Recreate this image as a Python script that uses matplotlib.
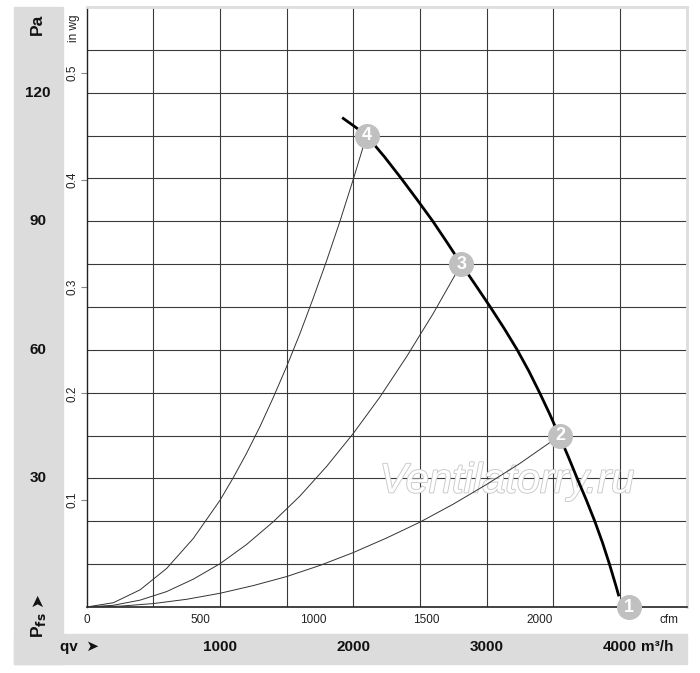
import matplotlib
matplotlib.use('Agg')
import matplotlib.pyplot as plt
import matplotlib.patheffects as pe
from matplotlib.patches import Rectangle
from matplotlib.transforms import blended_transform_factory

plt.rcParams['font.family'] = ['Liberation Sans', 'DejaVu Sans']

# fan curve (m3/h, Pa)
fan_q = [1925, 2015, 2100, 2235, 2360, 2480, 2597, 2705, 2810, 2920, 3028, 3132, 3230,
         3318, 3398, 3474, 3545, 3614, 3680, 3748, 3812, 3870, 3922, 3970, 3990]
fan_p = [114, 112, 110, 105, 100, 95, 90, 85, 80, 75, 70, 65, 60,
         55, 50, 45, 40, 35, 30, 25, 20, 15, 10, 5, 2.8]

# system curves (m3/h, Pa)
sys4_q = [0, 200, 400, 600, 800, 1000, 1100, 1200, 1300, 1400, 1500, 1600, 1700, 1800, 1900, 2000, 2100]
sys4_p = [0, 1.0, 4.0, 9.0, 16.0, 24.9, 30.2, 35.9, 42.1, 48.9, 56.1, 63.8, 72.1, 80.8, 90.0, 99.8, 110]
sys3_q = [0, 200, 400, 600, 800, 1000, 1200, 1400, 1600, 1800, 2000, 2200, 2400, 2600, 2810]
sys3_p = [0, 0.4, 1.6, 3.6, 6.5, 10.1, 14.6, 19.9, 25.9, 32.8, 40.5, 49.0, 58.4, 68.5, 80]
sys2_q = [0, 250, 500, 750, 1000, 1250, 1500, 1750, 2000, 2250, 2500, 2750, 3000, 3250, 3550]
sys2_p = [0, 0.2, 0.8, 1.8, 3.2, 5.0, 7.1, 9.7, 12.7, 16.1, 19.8, 24.0, 28.6, 33.5, 40]

# operating points
op_labels = ['1', '2', '3', '4']
op_q = [4067, 3550, 2810, 2100]
op_p = [0, 40, 80, 110]

pa_ticks = [30, 60, 90, 120]
inwg_ticks = [0.1, 0.2, 0.3, 0.4, 0.5]
cfm_ticks = [0, 500, 1000, 1500, 2000]
m3h_ticks = [1000, 2000, 3000, 4000]

W, H = 700, 673
fig = plt.figure(figsize=(W / 100, H / 100), dpi=100)

def fx(px):
    return px / W

def fy(py):
    return 1 - py / H

# gray side and bottom strips
fig.patches.append(Rectangle((fx(14), fy(664)), fx(63) - fx(14), fy(7) - fy(664),
                             transform=fig.transFigure, color='#dcdcdc', zorder=-1))
fig.patches.append(Rectangle((fx(14), fy(664)), fx(687) - fx(14), fy(634) - fy(664),
                             transform=fig.transFigure, color='#dcdcdc', zorder=-1))

ax = fig.add_axes([fx(86.7), fy(607), fx(686.5) - fx(86.7), fy(7) - fy(607)])
ax.set_xlim(0, 4500)
ax.set_ylim(0, 140)

for x in range(500, 4500, 500):
    ax.axvline(x, color='#3a3a3a', lw=0.8, zorder=1)
for y in range(10, 140, 10):
    ax.axhline(y, color='#3a3a3a', lw=0.8, zorder=1)

ax.spines['left'].set_color('#222222')
ax.spines['bottom'].set_color('#222222')
ax.spines['left'].set_linewidth(1.0)
ax.spines['bottom'].set_linewidth(1.2)
ax.spines['top'].set_color('#dddddd')
ax.spines['right'].set_color('#dddddd')
ax.spines['top'].set_linewidth(2)
ax.spines['right'].set_linewidth(2)
ax.set_xticks([])
ax.set_yticks([])

# watermark
ax.text(3152, 29.3, 'Ventilatorry.ru', fontsize=30, style='italic', color='white',
        ha='center', va='center', zorder=2,
        path_effects=[pe.withStroke(linewidth=1.3, foreground='#c8c8c8')])

# curves
ax.plot(sys4_q, sys4_p, color='#333333', lw=0.7, zorder=3)
ax.plot(sys3_q, sys3_p, color='#333333', lw=0.7, zorder=3)
ax.plot(sys2_q, sys2_p, color='#333333', lw=0.7, zorder=3)
ax.plot(fan_q, fan_p, color='black', lw=2, zorder=4, solid_joinstyle='round')

for lab, q, p in zip(op_labels, op_q, op_p):
    ax.plot(q, p, 'o', ms=18, color='#c0c0c0', mec='none', zorder=5, clip_on=False)
    ax.text(q, p, lab, color='white', fontsize=13, fontweight='bold',
            ha='center', va='center', zorder=6, clip_on=False)

# cfm scale under the axis
cfm_ax = ax.secondary_xaxis('bottom', functions=(lambda q: q / 1.699, lambda c: c * 1.699))
cfm_ax.set_xticks(cfm_ticks)
cfm_ax.tick_params(length=0, pad=5, labelsize=8.5, labelcolor='#222222')
cfm_ax.spines['bottom'].set_visible(False)
ax.annotate('cfm', xy=(1, 0), xycoords='axes fraction', xytext=(-12.5, -9.5),
            textcoords='offset points', ha='center', va='center', fontsize=8.5, color='#222222')

# in wg scale on the left
wg_ax = ax.secondary_yaxis('left', functions=(lambda p: p / 249.09, lambda w: w * 249.09))
wg_ax.set_yticks(inwg_ticks)
wg_ax.set_yticklabels([str(t) for t in inwg_ticks], rotation=90, va='center')
wg_ax.tick_params(length=4, width=0.8, color='#888888', pad=2, labelsize=8.5, labelcolor='#222222')
wg_ax.spines['left'].set_visible(False)
fig.text(fx(74), fy(28), 'in wg', rotation=90, ha='center', va='center', fontsize=8.5, color='#222222')

# Pa scale in the gray strip
trans_y = blended_transform_factory(fig.transFigure, ax.transData)
for p in pa_ticks:
    ax.text(fx(38), p, str(p), transform=trans_y, ha='center', va='center',
            fontsize=11, fontweight='bold', color='#111111')
fig.text(fx(37), fy(24), 'Pa', rotation=90, ha='center', va='center',
         fontsize=12.5, fontweight='bold', color='#111111')
fig.text(fx(38), fy(638), 'P$_{\\mathbf{fs}}$', rotation=90, ha='center', va='bottom',
         fontsize=12.5, fontweight='bold', color='#111111')
fig.text(fx(38), fy(600), '➤', rotation=90, ha='center', va='center',
         fontsize=12, color='#111111')

# m3/h scale in the bottom strip
trans_x = blended_transform_factory(ax.transData, fig.transFigure)
for q in m3h_ticks:
    ax.text(q, fy(647), str(q), transform=trans_x, ha='center', va='center',
            fontsize=11, fontweight='bold', color='#111111')
ax.annotate('m³/h', xy=(4000, fy(647)), xycoords=trans_x, xytext=(15, 0),
            textcoords='offset points', ha='left', va='center',
            fontsize=11, fontweight='bold', color='#111111')
fig.text(fx(60), fy(647), 'qv  ➤', ha='left', va='center',
         fontsize=11, fontweight='bold', color='#111111')

fig.savefig('out.png', dpi=100)
